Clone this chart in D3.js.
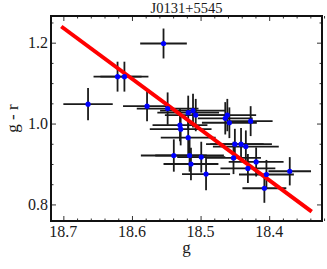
<!DOCTYPE html>
<html>
<head>
<meta charset="utf-8">
<script src="https://cdn.jsdelivr.net/npm/d3@7"></script>
<style>
  body { margin: 0; background: #fff; }
  text { font-family: "Liberation Serif", "DejaVu Serif", serif; fill: #1a1a1a; }
</style>
</head>
<body>
<div id="chart"></div>
<script>
const title = 'J0131+5545';

// g magnitude, g - r colour and their errors
const gMag = [18.664, 18.621, 18.611, 18.554, 18.578, 18.548, 18.518, 18.511, 18.507, 18.530,
              18.529, 18.518, 18.539, 18.516, 18.514, 18.499, 18.492, 18.464, 18.461, 18.458,
              18.427, 18.450, 18.441, 18.434, 18.452, 18.419, 18.431, 18.404, 18.407, 18.370];
const gr   = [1.048, 1.116, 1.116, 1.198, 1.043, 1.037, 1.027, 1.032, 1.021, 0.996,
              0.986, 0.965, 0.921, 0.921, 0.900, 0.917, 0.875, 1.013, 1.021, 1.002,
              1.006, 0.949, 0.949, 0.943, 0.915, 0.905, 0.889, 0.874, 0.840, 0.882];
const gErr = [0.036, 0.035, 0.035, 0.034, 0.035, 0.045, 0.045, 0.048, 0.045, 0.040,
              0.045, 0.040, 0.048, 0.050, 0.040, 0.035, 0.035, 0.040, 0.042, 0.040,
              0.032, 0.042, 0.045, 0.048, 0.040, 0.040, 0.040, 0.040, 0.032, 0.031];
const grErr = [0.040, 0.037, 0.037, 0.037, 0.037, 0.040, 0.042, 0.042, 0.040, 0.040,
              0.040, 0.040, 0.040, 0.040, 0.040, 0.038, 0.040, 0.040, 0.040, 0.038,
              0.037, 0.038, 0.040, 0.040, 0.040, 0.036, 0.036, 0.036, 0.036, 0.035];

// fitted line end points
const fitG  = [18.703, 18.338];
const fitGr = [1.240, 0.782];

const xMajor = [18.7, 18.6, 18.5, 18.4];
const yMajor = [0.8, 1.0, 1.2];

const width = 327, height = 269;
const margin = { left: 51, right: 5, top: 16, bottom: 48 };

const svg = d3.select('#chart').append('svg')
    .attr('width', width)
    .attr('height', height);

const x = d3.scaleLinear()
    .domain([18.718, 18.323])
    .range([margin.left, width - margin.right]);

const y = d3.scaleLinear()
    .domain([0.759, 1.266])
    .range([height - margin.bottom, margin.top]);

const xMinor = d3.range(18.32, 18.72, 0.02).filter(v => !xMajor.some(m => Math.abs(m - v) < 1e-6));
const yMinor = d3.range(0.8, 1.26, 0.05).filter(v => !yMajor.some(m => Math.abs(m - v) < 1e-6));

const plot = svg.append('g');
plot.append('clipPath').attr('id', 'clip')
  .append('rect')
    .attr('x', margin.left).attr('y', margin.top)
    .attr('width', width - margin.left - margin.right)
    .attr('height', height - margin.top - margin.bottom);

const marks = plot.append('g').attr('clip-path', 'url(#clip)');

const pts = gMag.map((g, i) => ({ g, c: gr[i], eg: gErr[i], ec: grErr[i] }));

// error bars
marks.selectAll('line.xe').data(pts).enter().append('line')
    .attr('class', 'xe')
    .attr('x1', d => x(d.g - d.eg)).attr('x2', d => x(d.g + d.eg))
    .attr('y1', d => y(d.c)).attr('y2', d => y(d.c))
    .attr('stroke', '#1a1a1a').attr('stroke-width', 1.8);

marks.selectAll('line.ye').data(pts).enter().append('line')
    .attr('class', 'ye')
    .attr('x1', d => x(d.g)).attr('x2', d => x(d.g))
    .attr('y1', d => y(d.c - d.ec)).attr('y2', d => y(d.c + d.ec))
    .attr('stroke', '#1a1a1a').attr('stroke-width', 1.8);

// fit line
marks.append('line')
    .attr('x1', x(fitG[0])).attr('y1', y(fitGr[0]))
    .attr('x2', x(fitG[1])).attr('y2', y(fitGr[1]))
    .attr('stroke', '#ff0000').attr('stroke-width', 4);

// points
marks.selectAll('circle').data(pts).enter().append('circle')
    .attr('cx', d => x(d.g)).attr('cy', d => y(d.c))
    .attr('r', 2.6)
    .attr('fill', '#0000ff');

// frame ticks, pointing inwards
function tickSet(axis, scale, values, size, transform) {
    plot.append('g')
        .attr('transform', transform)
        .call(axis(scale).tickValues(values).tickSize(size).tickFormat(''))
        .call(g => g.select('.domain').remove())
        .call(g => g.selectAll('line').attr('stroke', '#333').attr('stroke-width', 1));
}
const bottom = height - margin.bottom, right = width - margin.right;
tickSet(d3.axisBottom, x, xMajor, -5, `translate(0,${bottom})`);
tickSet(d3.axisBottom, x, xMinor, -2.5, `translate(0,${bottom})`);
tickSet(d3.axisTop, x, xMajor, -5, `translate(0,${margin.top})`);
tickSet(d3.axisTop, x, xMinor, -2.5, `translate(0,${margin.top})`);
tickSet(d3.axisLeft, y, yMajor, -5, `translate(${margin.left},0)`);
tickSet(d3.axisLeft, y, yMinor, -2.5, `translate(${margin.left},0)`);
tickSet(d3.axisRight, y, yMajor, -5, `translate(${right},0)`);
tickSet(d3.axisRight, y, yMinor, -2.5, `translate(${right},0)`);

// frame
plot.append('rect')
    .attr('x', margin.left).attr('y', margin.top)
    .attr('width', right - margin.left)
    .attr('height', bottom - margin.top)
    .attr('fill', 'none')
    .attr('stroke', '#111')
    .attr('stroke-width', 2);

// tick labels
svg.append('g').selectAll('text').data(xMajor).enter().append('text')
    .attr('x', d => x(d)).attr('y', bottom + 16)
    .attr('text-anchor', 'middle')
    .attr('font-size', 16)
    .text(d => d.toFixed(1));

svg.append('g').selectAll('text').data(yMajor).enter().append('text')
    .attr('x', margin.left - 3).attr('y', d => y(d) + 5.5)
    .attr('text-anchor', 'end')
    .attr('font-size', 16)
    .text(d => d.toFixed(1));

// labels and title
svg.append('text')
    .attr('x', (margin.left + right) / 2).attr('y', 253)
    .attr('text-anchor', 'middle')
    .attr('font-size', 17)
    .text('g');

svg.append('text')
    .attr('transform', `translate(18,${(margin.top + bottom) / 2}) rotate(-90)`)
    .attr('text-anchor', 'middle')
    .attr('font-size', 17)
    .text('g - r');

svg.append('text')
    .attr('x', (margin.left + right) / 2).attr('y', 12.5)
    .attr('text-anchor', 'middle')
    .attr('font-size', 14.5)
    .text(title);
</script>
</body>
</html>
